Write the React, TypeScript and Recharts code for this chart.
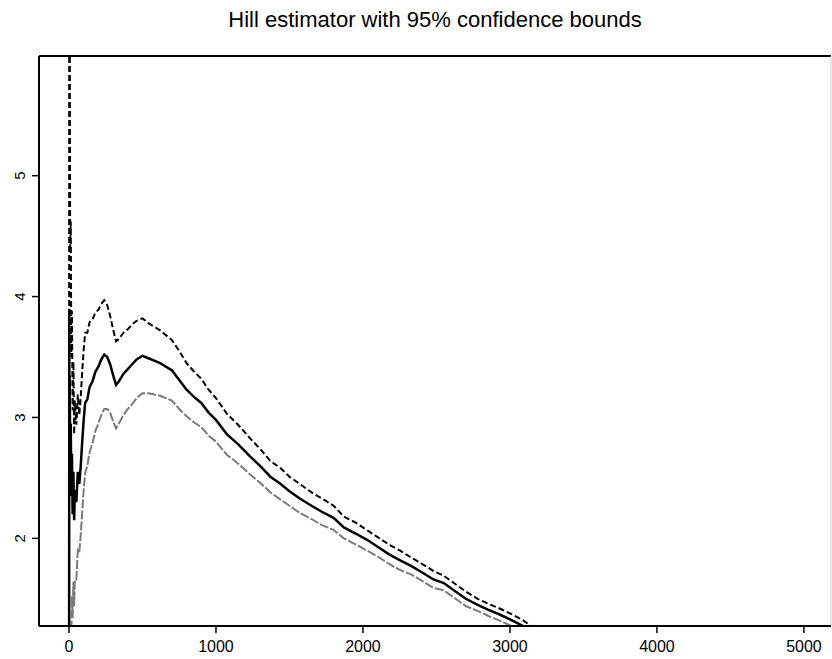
import React from "react";
import { LineChart, Line, XAxis, YAxis, ReferenceLine } from "recharts";

const chartTitle = "Hill estimator with 95% confidence bounds";

const kValues = [
  1, 2, 3, 5, 8, 12, 16, 20, 25, 30, 35, 40, 50, 60, 70, 80, 90, 100, 110, 125,
  140, 160, 180, 200, 220, 240, 260, 280, 300, 320, 340, 370, 400, 430, 460, 500,
  540, 580, 620, 660, 700, 750, 800, 850, 900, 950, 1000, 1075, 1150, 1230, 1300,
  1370, 1440, 1500, 1570, 1650, 1720, 1800, 1870, 1950, 2025, 2100, 2175, 2250,
  2330, 2400, 2480, 2550, 2630, 2700, 2780, 2850, 2930, 3000, 3080, 3150, 3220, 3300,
];

const hillValues = [
  1.2, 3.9, 2.85, 3.35, 2.6, 2.95, 2.35, 2.7, 2.2, 2.55, 2.15, 2.4, 2.3, 2.55, 2.45, 2.6, 2.8, 2.98, 3.12, 3.15,
  3.25, 3.3, 3.38, 3.42, 3.48, 3.52, 3.5, 3.44, 3.35, 3.27, 3.3, 3.36, 3.4, 3.44, 3.48, 3.51,
  3.49, 3.47, 3.45, 3.42, 3.39, 3.31, 3.23, 3.17, 3.12, 3.04, 2.98, 2.86, 2.78, 2.68, 2.6,
  2.51, 2.45, 2.39, 2.33, 2.27, 2.22, 2.17, 2.09, 2.04, 1.99, 1.93, 1.87, 1.82,
  1.77, 1.72, 1.66, 1.63, 1.56, 1.5, 1.45, 1.41, 1.37, 1.33, 1.28, 1.23, 1.19, 1.14,
];

const upperValues = [
  3.55, 9.31, 6.07, 6.29, 4.4, 4.62, 3.5, 3.88, 3.06, 3.46, 2.86, 3.14, 2.94, 3.19, 3.02, 3.17, 3.38, 3.56, 3.7, 3.7,
  3.79, 3.81, 3.87, 3.89, 3.94, 3.97, 3.93, 3.84, 3.73, 3.63, 3.65, 3.7, 3.73, 3.77, 3.8, 3.82,
  3.78, 3.75, 3.72, 3.68, 3.64, 3.55, 3.45, 3.38, 3.32, 3.23, 3.16, 3.03, 2.94, 2.83, 2.74,
  2.64, 2.58, 2.51, 2.45, 2.38, 2.33, 2.27, 2.18, 2.13, 2.07, 2.01, 1.95, 1.9,
  1.84, 1.79, 1.73, 1.69, 1.62, 1.56, 1.5, 1.46, 1.42, 1.38, 1.33, 1.27, 1.23, 1.18,
];

const lowerValues = [
  -1.15, -1.51, -0.38, 0.41, 0.8, 1.28, 1.2, 1.52, 1.34, 1.64, 1.44, 1.66, 1.66, 1.9, 1.88, 2.03, 2.22, 2.4, 2.54, 2.6,
  2.71, 2.79, 2.89, 2.95, 3.02, 3.07, 3.07, 3.04, 2.97, 2.91, 2.95, 3.02, 3.07, 3.11, 3.16, 3.2,
  3.2, 3.19, 3.18, 3.16, 3.14, 3.07, 3.01, 2.96, 2.92, 2.85, 2.8, 2.69, 2.62, 2.53, 2.46,
  2.38, 2.32, 2.27, 2.21, 2.16, 2.11, 2.07, 2.0, 1.95, 1.9, 1.85, 1.79, 1.74,
  1.7, 1.65, 1.59, 1.57, 1.5, 1.44, 1.4, 1.36, 1.32, 1.28, 1.23, 1.19, 1.15, 1.1,
];

const xTicks = [0, 1000, 2000, 3000, 4000, 5000];
const yTicks = [2, 3, 4, 5];

const X_MIN = -204;
const X_MAX = 5184;
const Y_MIN = 1.275;
const Y_MAX = 5.99;

const data = kValues.map((k, i) => ({
  k,
  hill: hillValues[i],
  upper: upperValues[i],
  lower: lowerValues[i],
}));

const FONT = "'Liberation Sans', Arial, Helvetica, sans-serif";

const XTick = (props: any) => {
  const { x, payload } = props;
  return (
    <text x={x} y={652} textAnchor="middle" fontSize={16} fontFamily={FONT} fill="#000">
      {payload.value}
    </text>
  );
};

const YTick = (props: any) => {
  const { y, payload } = props;
  return (
    <text
      x={25}
      y={y}
      transform={`rotate(-90 25 ${y})`}
      textAnchor="middle"
      fontSize={15}
      fontFamily={FONT}
      fill="#000"
    >
      {payload.value}
    </text>
  );
};

export default function App() {
  return (
    <div style={{ position: "absolute", left: 0, top: 0, width: 832, height: 659, background: "#fff" }}>
      <div
        style={{
          position: "absolute",
          left: 35,
          top: 7,
          width: 800,
          textAlign: "center",
          fontFamily: FONT,
          fontSize: 22,
          lineHeight: "26px",
          color: "#000",
        }}
      >
        {chartTitle}
      </div>
      <LineChart
        width={832}
        height={659}
        data={data}
        margin={{ top: 56, right: 1, bottom: 0, left: 0 }}
      >
        <XAxis
          dataKey="k"
          type="number"
          domain={[X_MIN, X_MAX]}
          allowDataOverflow
          ticks={xTicks}
          height={33}
          tickSize={7}
          axisLine={{ stroke: "#000", strokeWidth: 2 }}
          tickLine={{ stroke: "#000", strokeWidth: 1.5 }}
          tick={<XTick />}
          interval={0}
        />
        <YAxis
          type="number"
          domain={[Y_MIN, Y_MAX]}
          allowDataOverflow
          ticks={yTicks}
          width={39}
          tickSize={7}
          axisLine={{ stroke: "#000", strokeWidth: 2 }}
          tickLine={{ stroke: "#000", strokeWidth: 1.5 }}
          tick={<YTick />}
          interval={0}
        />
        <ReferenceLine y={Y_MAX} stroke="#000" strokeWidth={2} ifOverflow="extendDomain" />
        <ReferenceLine x={X_MAX} stroke="#cccccc" strokeWidth={1} ifOverflow="extendDomain" />
        <Line
          dataKey="lower"
          type="linear"
          stroke="#7a7a7a"
          strokeWidth={2}
          strokeDasharray="9 2"
          dot={false}
          activeDot={false}
          isAnimationActive={false}
        />
        <Line
          dataKey="hill"
          type="linear"
          stroke="#000"
          strokeWidth={2.5}
          dot={false}
          activeDot={false}
          isAnimationActive={false}
        />
        <Line
          dataKey="upper"
          type="linear"
          stroke="#000"
          strokeWidth={2}
          strokeDasharray="6 3"
          dot={false}
          activeDot={false}
          isAnimationActive={false}
        />
      </LineChart>
    </div>
  );
}
